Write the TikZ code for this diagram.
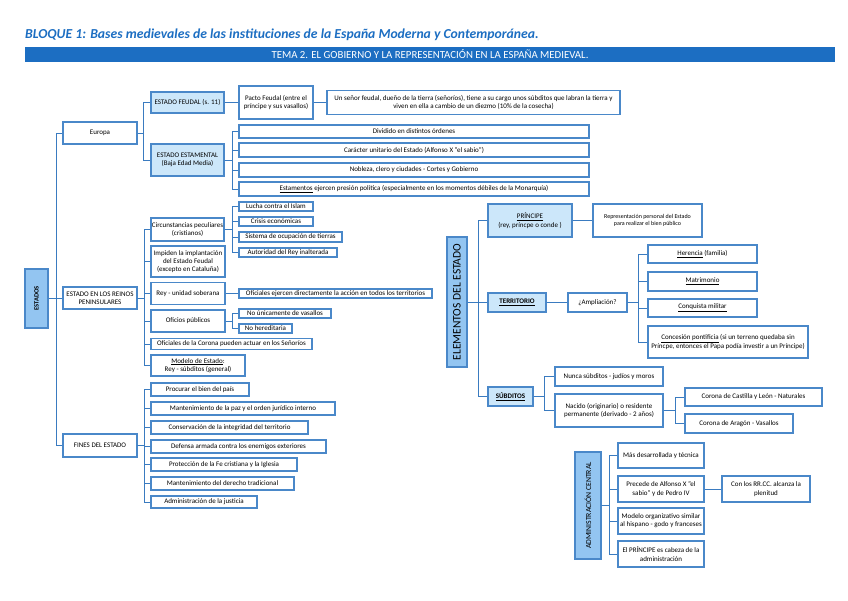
\documentclass[tikz,border=0pt]{standalone}
\usepackage{fontspec}
\setmainfont{Carlito}
\usepackage{xcolor}
\usepackage{tikz}
\usetikzlibrary{positioning,calc}
\definecolor{azul}{HTML}{1C6EC2}
\definecolor{borde}{HTML}{4A88C9}
\definecolor{linea}{HTML}{3A7BC0}
\definecolor{claro}{HTML}{CCE7FA}
\definecolor{medio}{HTML}{93C5F1}

\begin{document}
\begin{tikzpicture}[x=1pt,y=-1pt,
  box/.style={draw=borde,line width=1.1pt,fill=white,inner sep=0.5pt,align=center,font=\fontsize{7}{8.3}\selectfont},
  cbox/.style={box,fill=claro},
  mbox/.style={box,fill=medio},
  wd/.style={minimum width=#1pt},
  ht/.style={minimum height=#1pt},
  conn/.style={draw=linea,line width=0.9pt}]
  \useasboundingbox[fill=white] (0,0) rectangle (848,600);

  \node[anchor=south west,inner sep=0,text=azul,font=\fontsize{13.7}{16}\selectfont\bfseries\itshape] (titulo) at (25,41)
    {BLOQUE 1: Bases medievales de las instituciones de la España Moderna y Contemporánea.};
  \node[fill=azul,minimum width=810pt,minimum height=15pt,inner sep=0,text=white,font=\fontsize{10.8}{12}\selectfont] (tema) at (430,54.5)
    {TEMA 2. EL GOBIERNO Y LA REPRESENTACIÓN EN LA ESPAÑA MEDIEVAL.};

  \node[mbox,rotate=90,wd=59,ht=23,font=\fontsize{6.5}{8}\selectfont\bfseries] (estados) at (36.5,298.5) {ESTADOS};
  \node[box,wd=74,ht=22] (europa) at (100,133) {Europa};
  \node[box,wd=74,ht=22] (reinos) at (100,298) {ESTADO EN LOS REINOS\\PENINSULARES};
  \node[box,wd=74,ht=23] (fines) at (100,445.5) {FINES DEL ESTADO};

  \node[cbox,wd=73,ht=21] (feudal) at (187.5,102.5) {ESTADO FEUDAL (s. 11)};
  \node[cbox,wd=73,ht=32] (estamental) at (187.5,160) {ESTADO ESTAMENTAL\\(Baja Edad Media)};
  \node[box,wd=74,ht=33] (pacto) at (276,102.5) {Pacto Feudal (entre el\\príncipe y sus vasallos)};
  \node[box,wd=293,ht=24] (senor) at (473.5,102.5) {Un señor feudal, dueño de la tierra (señoríos), tiene a su cargo unos súbditos que labran la tierra y\\viven en ella a cambio de un diezmo (10\% de la cosecha)};
  \node[box,wd=350,ht=13] (dividido) at (414,131.5) {Dividido en distintos órdenes};
  \node[box,wd=350,ht=14] (caracter) at (414,150) {Carácter unitario del Estado (Alfonso X "el sabio")};
  \node[box,wd=350,ht=14] (nobleza) at (414,170) {Nobleza, clero y ciudades - Cortes y Gobierno};
  \node[box,wd=350,ht=14] (estamentos) at (414,189) {\underline{Estamentos} ejercen presión política (especialmente en los momentos débiles de la Monarquía)};

  \node[box,wd=73,ht=23] (circ) at (187.5,229.5) {Circunstancias peculiares\\(cristianos)};
  \node[box,wd=74,ht=31] (impiden) at (188,261.5) {Impiden la implantación\\del Estado Feudal\\(excepto en Cataluña)};
  \node[box,wd=74,ht=22] (rey) at (188,293.5) {Rey - unidad soberana};
  \node[box,wd=74,ht=22] (oficios) at (188,321) {Oficios públicos};
  \node[box,wd=161,ht=11] (corona) at (231.5,344) {Oficiales de la Corona pueden actuar en los Señoríos};
  \node[box,wd=94,ht=21] (modelo) at (198,365.5) {\underline{Modelo de Estado}:\\Rey - súbditos (general)};
  \node[box,wd=74,ht=9] (lucha) at (276,206.5) {Lucha contra el Islam};
  \node[box,wd=74,ht=9] (crisis) at (276,221.5) {Crisis económicas};
  \node[box,wd=103,ht=10] (sistema) at (290.5,237) {Sistema de ocupación de tierras};
  \node[box,wd=98,ht=9] (autoridad) at (288,252.5) {Autoridad del Rey inalterada};
  \node[box,wd=193,ht=9] (ejercen) at (335.5,293.5) {Oficiales ejercen directamente la acción en todos los territorios};
  \node[box,wd=92,ht=9] (vasallos) at (285,313.5) {No únicamente de vasallos};
  \node[box,wd=53,ht=9] (hereditaria) at (265.5,328.5) {No hereditaria};

  \node[box,wd=98,ht=13] (bien) at (200,389.5) {Procurar el bien del país};
  \node[box,wd=184,ht=13] (paz) at (243,408.5) {Mantenimiento de la paz y el orden jurídico interno};
  \node[box,wd=157,ht=13] (integridad) at (229.5,427.5) {Conservación de la integridad del territorio};
  \node[box,wd=175,ht=13] (defensa) at (238.5,446.5) {Defensa armada contra los enemigos exteriores};
  \node[box,wd=146,ht=13] (fe) at (224,464.5) {Protección de la Fe cristiana y la Iglesia};
  \node[box,wd=143,ht=13] (derecho) at (222.5,483.5) {Mantenimiento del derecho tradicional};
  \node[box,wd=106,ht=12] (justicia) at (204,502) {Administración de la justicia};

  \node[mbox,rotate=90,wd=130,ht=20,font=\fontsize{11.5}{13}\selectfont] (elementos) at (457,302) {ELEMENTOS DEL ESTADO};
  \node[cbox,wd=84,ht=33] (principe) at (530,220.5) {\underline{PRÍNCIPE}\\(rey, príncpe o conde )};
  \node[box,wd=109,ht=33,font=\fontsize{6}{7.5}\selectfont] (represent) at (647.5,220.5) {Representación personal del Estado\\para realizar el bien público};
  \node[cbox,wd=58,ht=19,font=\fontsize{7}{8}\selectfont\bfseries] (territorio) at (517,302.5) {\underline{TERRITORIO}};
  \node[box,wd=59,ht=19] (ampliacion) at (597.5,302.5) {¿Ampliación?};
  \node[box,wd=109,ht=18] (herencia) at (702.5,254) {\underline{Herencia} (familia)};
  \node[box,wd=109,ht=19] (matrimonio) at (702.5,281.5) {\underline{Matrimonio}};
  \node[box,wd=109,ht=18] (conquista) at (702.5,308) {\underline{Conquista militar}};
  \node[box,wd=160,ht=32] (concesion) at (728,342) {\underline{Concesión pontificia} (si un terreno quedaba sin\\Príncpe, entonces el Papa podía investir a un Príncipe)};
  \node[cbox,wd=45,ht=19,font=\fontsize{7}{8}\selectfont\bfseries] (subditos) at (510.5,396.5) {\underline{SÚBDITOS}};
  \node[box,wd=108,ht=19] (nunca) at (609,376.5) {Nunca súbditos - judíos y moros};
  \node[box,wd=108,ht=33] (nacido) at (609,410.5) {Nacido (originario) o residente\\permanente (derivado - 2 años)};
  \node[box,wd=137,ht=18] (castilla) at (753.5,397) {Corona de Castilla y León - Naturales};
  \node[box,wd=108,ht=19] (aragon) at (739,423.5) {Corona de Aragón - Vasallos};

  \node[mbox,rotate=90,wd=107,ht=26,font=\fontsize{7.7}{9}\selectfont] (admin) at (588,505.5) {ADMINISTRACIÓN CENTRAL};
  \node[box,wd=86,ht=25] (mas) at (661,455.5) {Más desarrollada y técnica};
  \node[box,wd=86,ht=26] (precede) at (661,489) {Precede de Alfonso X "el\\sabio" y de Pedro IV};
  \node[box,wd=86,ht=26] (modorg) at (661,521) {Modelo organizativo similar\\al hispano - godo y franceses};
  \node[box,wd=86,ht=26] (cabeza) at (661,554) {El PRÍNCIPE es cabeza de la\\administración};
  \node[box,wd=88,ht=26] (rrcc) at (766,489) {Con los RR.CC. alcanza la\\plenitud};

  \foreach \c in {europa,reinos,fines} \draw[conn] (estados.south) -- ++(8,0) |- (\c.west);
  \foreach \c in {feudal,estamental} \draw[conn] (europa.east) -- ++(6,0) |- (\c.west);
  \draw[conn] (feudal) -- (pacto);
  \draw[conn] (pacto) -- (senor);
  \foreach \c in {dividido,caracter,nobleza,estamentos} \draw[conn] (estamental.east) -- ++(8,0) |- (\c.west);
  \foreach \c in {circ,impiden,rey,oficios,corona,modelo} \draw[conn] (reinos.east) -- ++(7,0) |- (\c.west);
  \foreach \c in {lucha,crisis,sistema,autoridad} \draw[conn] (circ.east) -- ++(8,0) |- (\c.west);
  \draw[conn] (rey) -- (ejercen);
  \foreach \c in {vasallos,hereditaria} \draw[conn] (oficios.east) -- ++(7,0) |- (\c.west);
  \foreach \c in {bien,paz,integridad,defensa,fe,derecho,justicia} \draw[conn] (fines.east) -- ++(7,0) |- (\c.west);
  \foreach \c in {principe,territorio,subditos} \draw[conn] (elementos.south) -- ++(11,0) |- (\c.west);
  \draw[conn] (principe) -- (represent);
  \draw[conn] (territorio) -- (ampliacion);
  \foreach \c in {herencia,matrimonio,conquista,concesion} \draw[conn] (ampliacion.east) -- ++(11,0) |- (\c.west);
  \foreach \c in {nunca,nacido} \draw[conn] (subditos.east) -- ++(11,0) |- (\c.west);
  \foreach \c in {castilla,aragon} \draw[conn] (nacido.east) -- ++(12,0) |- (\c.west);
  \foreach \c in {mas,precede,modorg,cabeza} \draw[conn] (admin.south) -- ++(8,0) |- (\c.west);
  \draw[conn] (precede) -- (rrcc);
\end{tikzpicture}
\end{document}
